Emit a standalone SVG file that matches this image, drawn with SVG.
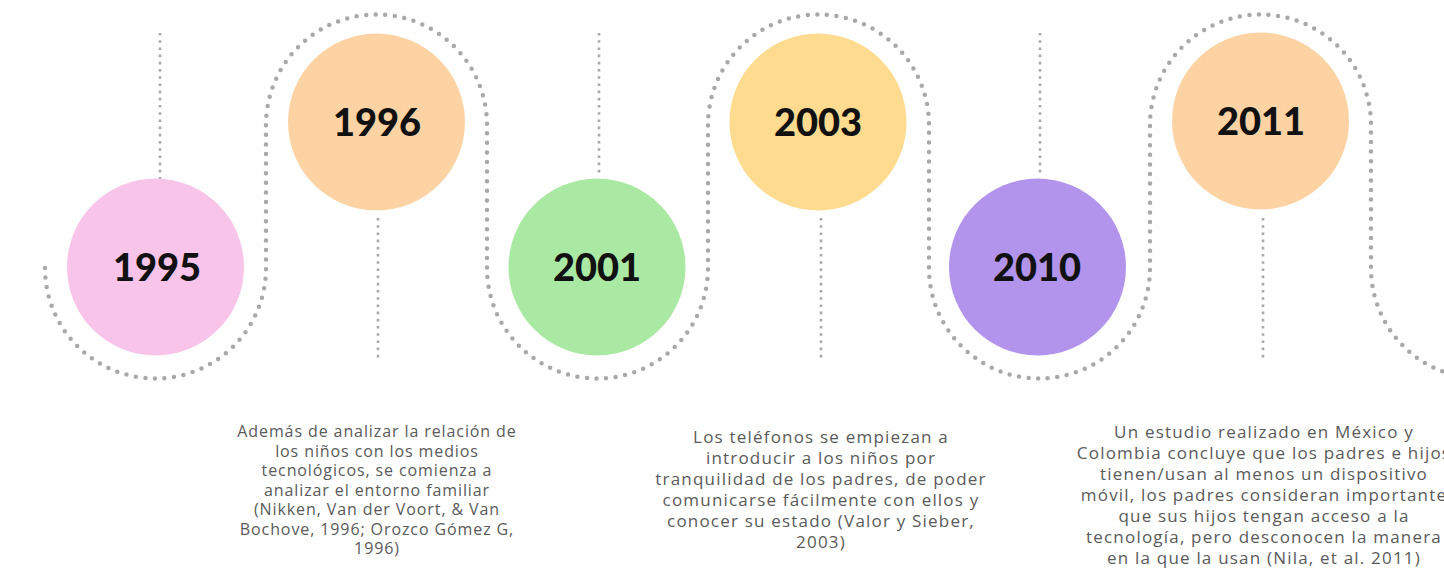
<svg xmlns="http://www.w3.org/2000/svg" width="1444" height="576" viewBox="0 0 1444 576">
<style>
.bg{fill:#ffffff}
.wave{fill:none;stroke:#a9a9a9;stroke-width:4.5;stroke-linecap:round;stroke-dasharray:0 9.6}
.stem{fill:none;stroke:#a9a9a9;stroke-width:2.6;stroke-dasharray:2.6 4.6}
.year{font-family:Lato,"Liberation Sans",sans-serif;font-weight:900;font-size:38px;fill:#111111;text-anchor:middle}
.desc{font-family:"Open Sans","Liberation Sans",sans-serif;fill:#5a5a5a;text-anchor:middle}
.d1{font-size:16px;letter-spacing:0.9px}
.d2{font-size:17px;letter-spacing:1.2px}
</style>
<rect class="bg" x="0" y="0" width="1444" height="576"/>
<g id="connectors">
<path class="wave" d="M45,268 A110.5,110.5 0 0 0 266,268 V125 A110.5,110.5 0 0 1 487,125 V268 A110.5,110.5 0 0 0 708,268 V125 A110.5,110.5 0 0 1 929,125 V268 A110.5,110.5 0 0 0 1150,268 V125 A110.5,110.5 0 0 1 1371,125 V268 A110.5,110.5 0 0 0 1592,268"/>
<line class="stem" x1="160" y1="33" x2="160" y2="180"/>
<line class="stem" x1="378" y1="218" x2="378" y2="359"/>
<line class="stem" x1="599" y1="33" x2="599" y2="176"/>
<line class="stem" x1="821" y1="218" x2="821" y2="359"/>
<line class="stem" x1="1040" y1="33" x2="1040" y2="176"/>
<line class="stem" x1="1263" y1="218" x2="1263" y2="359"/>
</g>
<g id="n1995">
<circle cx="155.5" cy="267" r="88.5" fill="#f9c4e9"/>
<text class="year" x="157" y="281">1995</text>
</g>
<g id="n1996">
<circle cx="376.5" cy="122" r="88.5" fill="#fdd3a4"/>
<text class="year" x="377" y="136">1996</text>
</g>
<g id="n2001">
<circle cx="597" cy="267" r="88.5" fill="#a9e9a4"/>
<text class="year" x="597" y="281">2001</text>
</g>
<g id="n2003">
<circle cx="818" cy="122" r="88.5" fill="#fedb8e"/>
<text class="year" x="818" y="136">2003</text>
</g>
<g id="n2010">
<circle cx="1037.5" cy="267" r="88.5" fill="#b394ed"/>
<text class="year" x="1037" y="281">2010</text>
</g>
<g id="n2011">
<circle cx="1260.5" cy="121" r="88.5" fill="#fdd3a4"/>
<text class="year" x="1261" y="135">2011</text>
</g>
<g id="t1996">
<text class="desc d1" x="377" y="437">Además de analizar la relación de</text>
<text class="desc d1" x="377" y="456.5">los niños con los medios</text>
<text class="desc d1" x="377" y="476">tecnológicos, se comienza a</text>
<text class="desc d1" x="377" y="495.5">analizar el entorno familiar</text>
<text class="desc d1" x="377" y="515">(Nikken, Van der Voort, &amp; Van</text>
<text class="desc d1" x="377" y="534.5">Bochove, 1996; Orozco Gómez G,</text>
<text class="desc d1" x="377" y="554">1996)</text>
</g>
<g id="t2003">
<text class="desc d2" x="821" y="443">Los teléfonos se empiezan a</text>
<text class="desc d2" x="821" y="464">introducir a los niños por</text>
<text class="desc d2" x="821" y="485">tranquilidad de los padres, de poder</text>
<text class="desc d2" x="821" y="506">comunicarse fácilmente con ellos y</text>
<text class="desc d2" x="821" y="527">conocer su estado (Valor y Sieber,</text>
<text class="desc d2" x="821" y="548">2003)</text>
</g>
<g id="t2011">
<text class="desc d2" x="1264" y="438">Un estudio realizado en México y</text>
<text class="desc d2" x="1264" y="459">Colombia concluye que los padres e hijos</text>
<text class="desc d2" x="1264" y="480">tienen/usan al menos un dispositivo</text>
<text class="desc d2" x="1264" y="501">móvil, los padres consideran importante</text>
<text class="desc d2" x="1264" y="522">que sus hijos tengan acceso a la</text>
<text class="desc d2" x="1264" y="543">tecnología, pero desconocen la manera</text>
<text class="desc d2" x="1264" y="564">en la que la usan (Nila, et al. 2011)</text>
</g>
</svg>
